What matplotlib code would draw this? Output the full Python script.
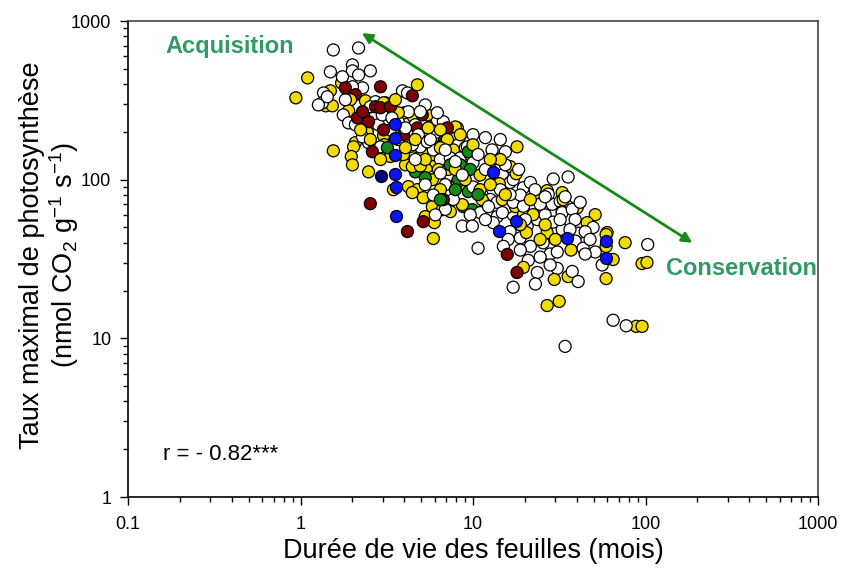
import numpy as np
import matplotlib
matplotlib.use("Agg")
import matplotlib.pyplot as plt
from matplotlib.ticker import LogLocator, FuncFormatter, NullFormatter

plt.rcParams['font.family'] = ['Liberation Sans', 'DejaVu Sans']
plt.rcParams['mathtext.fontset'] = 'custom'
plt.rcParams['mathtext.rm'] = 'Liberation Sans'
plt.rcParams['mathtext.it'] = 'Liberation Sans:italic'

# leaf lifespan (months) / max photosynthesis rate (nmol CO2 g-1 s-1) per group
white_ll = [1.55, 2.17, 2.00, 2.00, 1.49, 2.54, 1.75, 2.17, 2.29, 2.00, 1.36, 1.34, 3.90, 4.17,
            2.72, 3.11, 1.77, 1.90, 2.08, 2.72, 2.83, 2.44, 2.48, 4.22, 1.43, 1.82, 1.27, 2.54,
            2.98, 3.19, 2.29, 3.69, 3.32, 4.63, 5.66, 6.21, 6.73, 7.69, 8.22, 9.02, 9.64, 10.0,
            9.27, 8.11, 7.10, 5.89, 4.95, 4.45, 4.51, 3.69, 2.91, 7.10, 6.05, 5.89, 6.47, 7.39,
            8.44, 9.27, 8.79, 9.64, 10.0, 7.39, 6.91, 8.11, 10.3, 10.0, 11.3, 12.6, 13.8, 11.8,
            14.8, 16.4, 19.6, 21.5, 25.2, 28.8, 32.0, 35.2, 24.5, 19.6, 17.1, 15.8, 13.8, 11.0,
            11.8, 15.4, 13.5, 29.2, 35.6, 17.1, 5.89, 7.69, 6.91, 9.64, 6.05, 8.67, 9.91, 10.7,
            17.1, 23.6, 20.9, 30.8, 12.3, 14.8, 13.1, 11.8, 16.4, 18.8, 16.0, 20.6, 23.6, 26.2,
            29.2, 32.9, 21.5, 25.5, 28.0, 18.8, 15.0, 32.9, 30.8, 17.1, 19.6, 24.5, 27.3, 34.2,
            37.6, 39.1, 49.7, 40.7, 44.7, 39.1, 43.5, 51.1, 44.7, 56.1, 37.6, 40.7, 103, 64.9,
            77.3, 34.2, 41.8, 5.29, 6.21, 4.82, 5.43, 4.06, 3.39, 12.6, 15.4, 18.4, 18.8, 14.4,
            4.95, 5.66, 6.91, 7.90, 8.67, 10.7, 11.8, 12.9, 14.4, 16.4, 22.9, 26.2, 20.1, 32.0,
            36.5, 47.7, 28.0, 24.5, 23.0, 6.47, 5.29, 4.63]
white_ps = [657, 676, 529, 485, 478, 485, 445, 457, 379, 385, 352, 305, 363, 352,
            310, 305, 256, 228, 222, 256, 222, 200, 171, 268, 333, 319, 296, 288,
            256, 200, 186, 232, 206, 222, 215, 238, 232, 184, 166, 159, 173, 192,
            130, 140, 150, 104, 161, 166, 137, 179, 161, 206, 198, 154, 134, 137,
            137, 161, 121, 144, 128, 107, 93, 96, 104, 90, 80, 75, 72, 70,
            107, 96, 89, 96, 72, 70, 73, 68, 58.5, 65, 60, 67, 58.5, 62,
            184, 150, 136, 101, 104, 100, 80, 75, 65, 60, 60, 51, 51, 37,
            21, 26, 31, 27.6, 67.6, 62, 53.6, 56, 47, 43, 42, 51, 56, 60,
            54, 62, 38, 40, 34, 36, 38, 48.5, 35, 72, 68, 70, 81, 78,
            65, 56, 50, 46, 47, 41, 37, 35, 34, 29, 26.4, 22.8, 39, 13,
            12, 8.9, 72, 296, 264, 192, 173, 212, 245, 116, 124, 116, 80, 86.5,
            268, 179, 154, 130, 107, 144, 116, 154, 179, 80.5, 86.5, 78, 56, 56,
            48.5, 42, 29, 32.5, 22, 110, 93, 134]

yellow_ll = [1.10, 0.94, 1.73, 1.49, 1.40, 1.53, 1.95, 1.90, 2.38, 2.41, 3.03, 3.03, 4.76, 4.00,
             4.51, 2.44, 2.08, 2.03, 1.97, 2.00, 1.55, 3.03, 3.06, 4.89, 5.08, 5.89, 6.05, 5.89,
             5.89, 5.36, 7.69, 6.91, 10.0, 8.11, 5.43, 2.48, 4.06, 4.45, 4.95, 3.95, 3.32, 3.69,
             3.46, 4.22, 4.76, 4.45, 5.15, 5.29, 5.89, 5.97, 7.90, 6.30, 7.19, 5.81, 6.47, 5.81,
             6.64, 7.39, 8.67, 10.0, 11.0, 11.3, 14.8, 17.6, 19.6, 32.9, 18.0, 16.4, 17.8, 14.2,
             23.6, 26.9, 32.9, 33.3, 51.1, 76.2, 59.9, 40.2, 45.9, 22.3, 26.9, 24.5, 20.4, 59.1,
             59.1, 64.9, 95.5, 102, 59.1, 88.3, 95.5, 35.6, 19.6, 29.6, 26.9, 31.6,
             6.47, 7.10, 8.44, 5.50, 4.63, 4.06, 5.29, 6.47, 7.90, 9.02, 11.0, 12.6, 14.4, 2.91,
             2.54, 2.23, 3.55, 12.6, 15.4, 21.5, 26.2, 30.0, 37.0, 18.8]
yellow_ps = [438, 328, 407, 363, 292, 292, 319, 272, 314, 272, 305, 268, 396, 264,
             249, 198, 171, 161, 140, 124, 152, 189, 166, 166, 148, 186, 161, 140,
             121, 116, 154, 128, 148, 212, 256, 112, 124, 121, 122, 144, 140, 264,
             86.5, 90.4, 86.5, 82.9, 77, 58.5, 42.6, 53.6, 215, 116, 116, 100, 86.5, 67.6,
             64.7, 62.9, 69.6, 166, 86.5, 74.8, 74.8, 67.6, 60.2, 62.9, 161, 121, 109, 94.4,
             78.2, 85.3, 82.9, 74.8, 60.2, 40.1, 46.4, 66.6, 53.6, 60.2, 46.4, 42, 46.4, 45.1,
             37.9, 31.4, 29.6, 30.1, 23.8, 11.9, 11.9, 24.5, 28, 23.5, 16.1, 17.1,
             206, 179, 192, 212, 179, 159, 134, 159, 116, 100, 107, 93, 134, 134,
             179, 206, 319, 134, 80.5, 74.8, 52, 42, 36, 52]

red_ll = [2.91, 2.08, 4.45, 1.82, 2.72, 2.14, 2.48, 2.91, 4.76, 2.61, 5.08, 3.03, 3.95, 3.32,
          2.54, 4.17, 5.15, 7.10, 6.73, 15.8, 18.0, 2.29]
red_ps = [385, 343, 338, 379, 288, 245, 232, 284, 212, 150, 256, 206, 192, 288,
          70.6, 47.1, 54.4, 212, 74.8, 33.8, 26, 268]

green_ll = [4.63, 6.05, 6.73, 6.91, 9.39, 8.79, 9.91, 8.44, 9.39, 3.19, 7.39, 8.22, 9.64, 10.7,
            6.47, 7.90, 5.29]
green_ps = [112, 256, 186, 171, 84.1, 67.6, 64.7, 124, 150, 159, 124, 100, 116, 80.5,
            74.8, 86.5, 103]

blue_ll = [3.55, 3.55, 3.55, 3.55, 3.60, 3.60, 13.1, 17.8, 14.2, 35.2, 59.1, 59.1]
blue_ps = [225, 184, 144, 109, 90.4, 59.4, 112, 55.2, 47.8, 43.2, 41.3, 31.9]

navy_ll = [2.91]
navy_ps = [106]

groups = [
    (white_ll, white_ps, 'white'),
    (yellow_ll, yellow_ps, '#f2dc00'),
    (red_ll, red_ps, '#800000'),
    (green_ll, green_ps, '#138a13'),
]

# interleave the groups so overlapping circles stack in a mixed order
xs, ys, cols, keys = [], [], [], []
for k, (gx, gy, col) in enumerate(groups):
    n = len(gx)
    for i in range(n):
        xs.append(gx[i])
        ys.append(gy[i])
        cols.append(col)
        keys.append(i / n + k * 0.003)
order = np.argsort(keys)
xs = np.array(xs)[order]
ys = np.array(ys)[order]
cols = np.array(cols)[order]

fig = plt.figure(figsize=(8.41, 5.69), dpi=100)
ax = fig.add_axes([128 / 841, 1 - 497 / 569, 690 / 841, 476 / 569])

kw = dict(s=75, edgecolors='black', linewidths=0.9)
ax.scatter(xs, ys, c=list(cols), zorder=2, **kw)
ax.scatter(blue_ll, blue_ps, c='#0a14ff', zorder=3, **kw)
ax.scatter(navy_ll, navy_ps, c='#000080', zorder=3, **kw)

ax.set_xscale('log')
ax.set_yscale('log')
ax.set_xlim(0.1, 1000)
ax.set_ylim(1, 1000)

fmt = FuncFormatter(lambda v, p: '{:g}'.format(v))
for axis in (ax.xaxis, ax.yaxis):
    axis.set_major_locator(LogLocator(base=10))
    axis.set_minor_locator(LogLocator(base=10, subs=np.arange(2, 10)))
    axis.set_major_formatter(fmt)
    axis.set_minor_formatter(NullFormatter())

ax.tick_params(which='major', direction='out', length=6, width=1, labelsize=13, color='black')
ax.tick_params(which='minor', direction='out', length=3.5, width=1, color='black')
ax.tick_params(axis='x', which='major', pad=8)
ax.tick_params(axis='y', which='major', pad=6)
ax.tick_params(top=False, right=False, which='both')
for side in ('left', 'bottom'):
    ax.spines[side].set_color('black')
for side in ('top', 'right'):
    ax.spines[side].set_color('#444444')
for sp in ax.spines.values():
    sp.set_linewidth(1.2)

fig.text(473 / 841, 1 - 551 / 569, 'Durée de vie des feuilles (mois)', fontsize=19.5,
         ha='center', va='center')
fig.text(50 / 841, 1 - 255 / 569,
         'Taux maximal de photosynthèse\n(nmol CO$_2$ g$^{-1}$ s$^{-1}$)',
         fontsize=19.5, rotation=90, ha='center', va='center', multialignment='center',
         linespacing=1.1)

ax.annotate('', xy=(2.27, 840), xytext=(187, 40),
            arrowprops=dict(arrowstyle='<|-|>', color='#168a16', lw=2,
                            mutation_scale=15, shrinkA=0, shrinkB=0))
ax.text(0.164, 686, 'Acquisition', color='#339966', fontsize=17, fontweight='bold',
        va='center', ha='left')
ax.text(132, 27.5, 'Conservation', color='#339966', fontsize=17, fontweight='bold',
        va='center', ha='left')
ax.text(0.159, 1.84, 'r = - 0.82***', fontsize=16, va='center', ha='left')

fig.savefig('out.png', dpi=100)
